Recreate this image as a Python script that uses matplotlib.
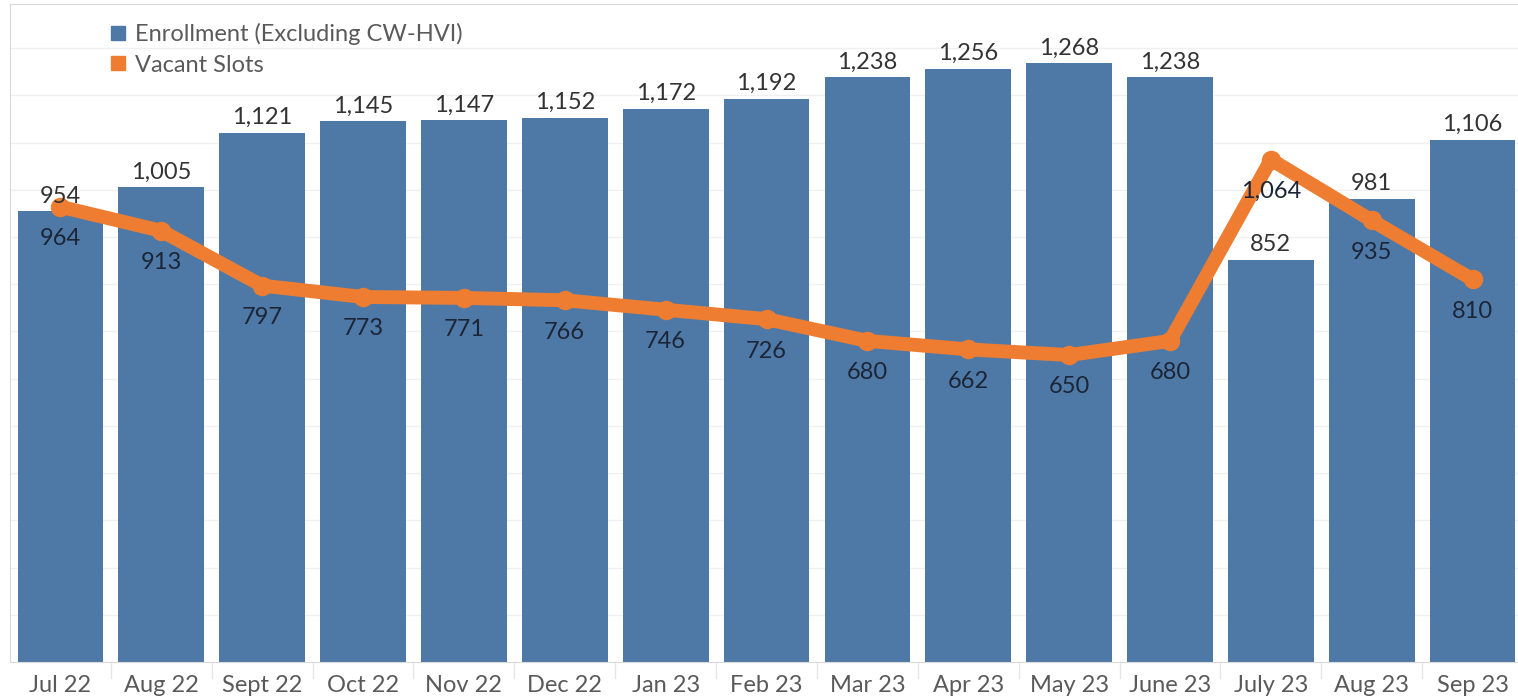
import numpy as np
import matplotlib.pyplot as plt

plt.rcParams["font.family"] = ["Lato", "DejaVu Sans"]

# データ
months = ["Jul 22", "Aug 22", "Sept 22", "Oct 22", "Nov 22", "Dec 22", "Jan 23",
          "Feb 23", "Mar 23", "Apr 23", "May 23", "June 23", "July 23",
          "Aug 23", "Sep 23"]
enrollment = [954, 1005, 1121, 1145, 1147, 1152, 1172, 1192, 1238, 1256,
              1268, 1238, 852, 981, 1106]
vacant = [964, 913, 797, 773, 771, 766, 746, 726, 680, 662, 650, 680,
          1064, 935, 810]

BLUE = "#4e79a7"
ORANGE = "#ee7d31"

fig = plt.figure(figsize=(15.18, 6.97), dpi=100)
ax = fig.add_axes([0.0066, 0.0502, 0.9934, 0.9438])

x = np.arange(len(months))

ax.bar(x, enrollment, width=0.85, color=BLUE, zorder=2,
       label="Enrollment (Excluding CW-HVI)")
ax.plot(x, vacant, color=ORANGE, lw=10, marker="o", ms=13,
        solid_joinstyle="round", solid_capstyle="round", zorder=3,
        label="Vacant Slots")

# 棒のラベル
for xi, v in zip(x, enrollment):
    ax.annotate(f"{v:,}", (xi, v), xytext=(0, 11), textcoords="offset points",
                ha="center", va="center", fontsize=17, color="#333333",
                zorder=4)

# 線のラベル
for xi, v in zip(x, vacant):
    ax.annotate(f"{v:,}", (xi, v), xytext=(0, -23), textcoords="offset points",
                ha="center", va="center", fontsize=17, color="#1c2536",
                zorder=4)

ax.set_xlim(-0.5, 14.45)
ax.set_ylim(0, 1393)
ax.set_yticks(np.arange(100, 1400, 100))
ax.yaxis.grid(True, color="#f0f0f0", lw=1, zorder=0)
ax.tick_params(axis="y", left=False, labelleft=False)

ax.set_xticks(x)
ax.set_xticklabels(months, fontsize=17, color="#5a5a5a")
ax.tick_params(axis="x", length=0, pad=9)
for b in np.arange(0.5, 14.5, 1.0):
    ax.plot([b, b], [0, -0.025], transform=ax.get_xaxis_transform(),
            color="#e6e6e6", lw=1, clip_on=False)

for side in ["left", "top", "bottom"]:
    ax.spines[side].set_color("#d9d9d9")
ax.spines["right"].set_visible(False)

handles = [
    plt.Line2D([], [], marker="s", ls="", color=BLUE, ms=10),
    plt.Line2D([], [], marker="s", ls="", color=ORANGE, ms=10),
]
ax.legend(handles, ["Enrollment (Excluding CW-HVI)", "Vacant Slots"],
          loc="upper left", bbox_to_anchor=(0.05, 1.0), frameon=False,
          fontsize=17, labelcolor="#5a5a5a", handletextpad=0.1,
          handlelength=1.2, labelspacing=0.4, borderpad=0.3)

fig.savefig("out.png", dpi=100)
